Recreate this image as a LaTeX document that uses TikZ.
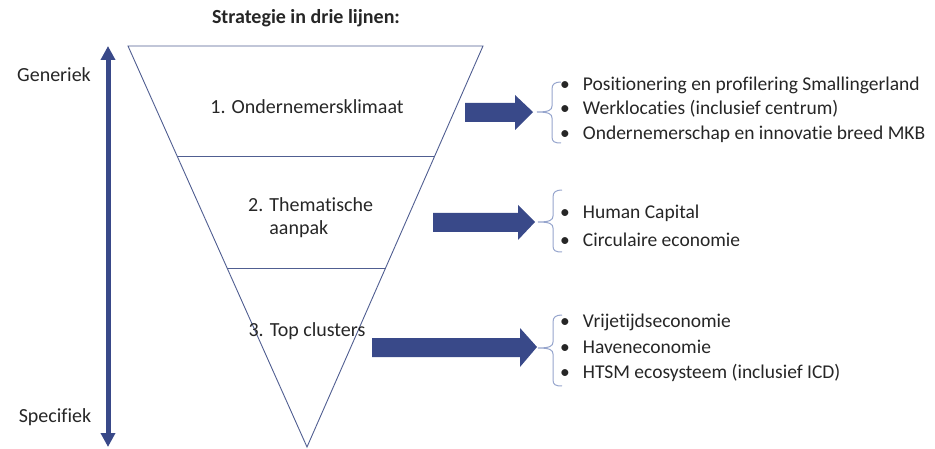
\documentclass[tikz,border=0pt]{standalone}
\usepackage{fontspec}
\setmainfont{Carlito}[Ligatures=NoCommon]
\usetikzlibrary{arrows.meta}
\definecolor{darkblue}{RGB}{57,73,137}
\definecolor{lineblue}{RGB}{80,94,145}
\definecolor{braceblue}{RGB}{150,165,205}
\tikzset{
  txt/.style={font=\fontsize{20}{23}\selectfont,inner sep=0pt,text=black!85},
  item/.style={txt,font=\fontsize{19.5}{23}\selectfont,anchor=west},
  blockarrow/.style={fill=darkblue,draw=none},
  brc/.style={draw=braceblue,line width=1pt}
}
\begin{document}
\begin{tikzpicture}[x=1pt,y=-1pt]
\useasboundingbox (0,0) rectangle (935,449);
% funnel
\coordinate (tl) at (128,46);
\coordinate (tr) at (483,46);
\coordinate (ap) at (307,447);
\draw[lineblue,line width=0.9pt] (tl)--(tr)--(ap)--cycle;
\draw[lineblue,line width=0.9pt] (177,156)--(435,156);
\draw[lineblue,line width=0.9pt] (227,268)--(386,268);
\node[txt,font=\bfseries\fontsize{20}{23}\selectfont] (title) at (306,18) {Strategie in drie lijnen:};
\node[txt] (l1) at (307,107) {1. Ondernemersklimaat};
\node[txt,anchor=west,align=left] (l2) at (248,218) {2. Thematische\\\phantom{2. }aanpak};
\node[txt] (l3) at (307,331) {3. Top clusters};
% generiek - specifiek
\coordinate (up) at (108,46);
\coordinate (down) at (108,447);
\draw[darkblue,line width=5pt,{Triangle[width=14pt,length=14pt]}-{Triangle[width=14pt,length=14pt]}] (down)--(up);
\node[txt] (gen) at (54,75) {Generiek};
\node[txt] (spec) at (55,417) {Specifiek};
% block arrows
\filldraw[blockarrow] (465,103)--(515,103)--(515,95)--(533,112)--(515,130)--(515,122)--(465,122)--cycle;
\filldraw[blockarrow] (433,213)--(518,213)--(518,205)--(535,222)--(518,240)--(518,232)--(433,232)--cycle;
\filldraw[blockarrow] (372,338)--(520,338)--(520,328)--(537,347)--(520,367)--(520,357)--(372,357)--cycle;
% braces
\draw[brc] (561,82) .. controls (555,82) and (552,84) .. (552,89) -- (552,106) .. controls (552,110) and (549,112) .. (537,112) .. controls (549,112) and (552,114) .. (552,118) -- (552,137) .. controls (552,142) and (555,143) .. (561,143);
\draw[brc] (562,190) .. controls (556,190) and (553,192) .. (553,197) -- (553,216) .. controls (553,220) and (550,222) .. (538,222) .. controls (550,222) and (553,224) .. (553,228) -- (553,246) .. controls (553,251) and (556,252) .. (562,252);
\draw[brc] (562,315) .. controls (556,315) and (553,317) .. (553,322) -- (553,342) .. controls (553,346) and (550,348) .. (538,348) .. controls (550,348) and (553,350) .. (553,354) -- (553,380) .. controls (553,385) and (556,386) .. (562,386);
% lists
\node[item] (b1a) at (560,85) {\textbullet\hspace{13pt}Positionering en profilering Smallingerland};
\node[item] (b1b) at (560,109) {\textbullet\hspace{13pt}Werklocaties (inclusief centrum)};
\node[item] (b1c) at (560,134) {\textbullet\hspace{13pt}Ondernemerschap en innovatie breed MKB};
\node[item] (b2a) at (560,213) {\textbullet\hspace{13pt}Human Capital};
\node[item] (b2b) at (560,240) {\textbullet\hspace{13pt}Circulaire economie};
\node[item] (b3a) at (560,322) {\textbullet\hspace{13pt}Vrijetijdseconomie};
\node[item] (b3b) at (560,347) {\textbullet\hspace{13pt}Haveneconomie};
\node[item] (b3c) at (560,373) {\textbullet\hspace{13pt}HTSM ecosysteem (inclusief ICD)};
\end{tikzpicture}
\end{document}
